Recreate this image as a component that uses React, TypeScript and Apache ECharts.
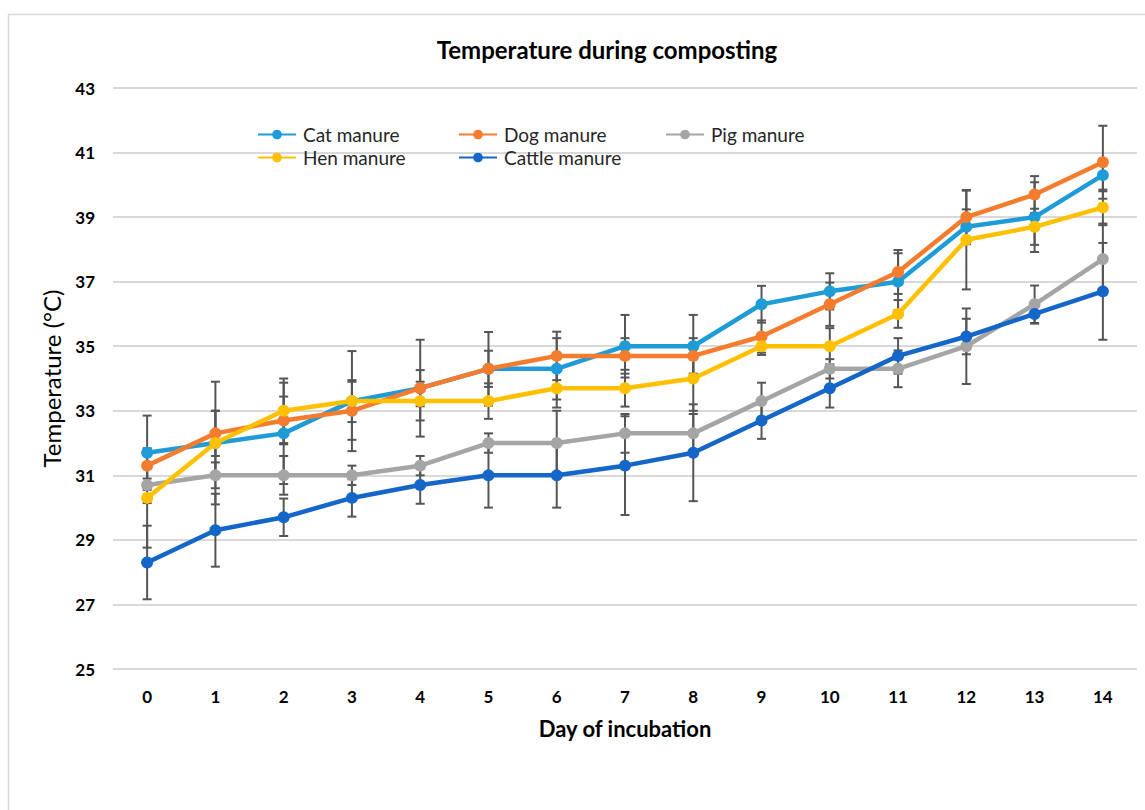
import React, { useEffect, useRef } from "react";
import * as echarts from "echarts";

const days = ["0", "1", "2", "3", "4", "5", "6", "7", "8", "9", "10", "11", "12", "13", "14"];
const yTicks = { min: 25, max: 43, interval: 2 };

const seriesNames = ["Cat manure", "Dog manure", "Pig manure", "Hen manure", "Cattle manure"];
const seriesColors = ["#1F9CD8", "#F47C2F", "#A5A5A5", "#FFC000", "#1467C8"];

const catManure = [31.7, 32.0, 32.3, 33.3, 33.7, 34.3, 34.3, 35.0, 35.0, 36.3, 36.7, 37.0, 38.7, 39.0, 40.3];
const dogManure = [31.3, 32.3, 32.7, 33.0, 33.7, 34.3, 34.7, 34.7, 34.7, 35.3, 36.3, 37.3, 39.0, 39.7, 40.7];
const pigManure = [30.7, 31.0, 31.0, 31.0, 31.3, 32.0, 32.0, 32.3, 32.3, 33.3, 34.3, 34.3, 35.0, 36.3, 37.7];
const henManure = [30.3, 32.0, 33.0, 33.3, 33.3, 33.3, 33.7, 33.7, 34.0, 35.0, 35.0, 36.0, 38.3, 38.7, 39.3];
const cattleManure = [28.3, 29.3, 29.7, 30.3, 30.7, 31.0, 31.0, 31.3, 31.7, 32.7, 33.7, 34.7, 35.3, 36.0, 36.7];

const catErr = [1.15, 1.0, 1.57, 0.65, 1.5, 1.14, 0.95, 0.97, 0.97, 0.57, 0.56, 0.88, 0.54, 1.08, 0.5];
const dogErr = [0.4, 0.7, 0.74, 0.9, 0.56, 0.56, 0.75, 0.55, 0.55, 0.5, 0.67, 0.68, 0.82, 0.57, 1.13];
const pigErr = [0.56, 0.4, 0.6, 0.3, 0.3, 0.3, 1.0, 0.6, 0.6, 0.57, 0.3, 0.57, 1.17, 0.58, 1.1];
const henErr = [1.54, 1.9, 1.0, 1.55, 0.6, 0.55, 0.6, 0.57, 1.0, 0.27, 0.56, 0.43, 1.54, 0.56, 0.55];
const cattleErr = [1.14, 1.13, 0.58, 0.58, 0.58, 1.0, 1.0, 1.53, 1.5, 0.57, 0.6, 0.55, 0.55, 0.3, 1.5];

const allValues = [catManure, dogManure, pigManure, henManure, cattleManure];
const allErrs = [catErr, dogErr, pigErr, henErr, cattleErr];

const legendColumns = [
  ["Cat manure", "Hen manure"],
  ["Dog manure", "Cattle manure"],
  ["Pig manure"],
];

const FONT = "Lato, 'Open Sans', sans-serif";

function errorRender(params: any, api: any) {
  const x = api.value(0);
  const lo = api.coord([x, api.value(1)]);
  const hi = api.coord([x, api.value(2)]);
  const w = 4.5;
  const style = { stroke: "#555555", lineWidth: 2 };
  return {
    type: "group",
    children: [
      { type: "line", shape: { x1: lo[0], y1: lo[1], x2: hi[0], y2: hi[1] }, style },
      { type: "line", shape: { x1: lo[0] - w, y1: lo[1], x2: lo[0] + w, y2: lo[1] }, style },
      { type: "line", shape: { x1: hi[0] - w, y1: hi[1], x2: hi[0] + w, y2: hi[1] }, style },
    ],
  };
}

export default function App() {
  const ref = useRef<HTMLDivElement>(null);
  useEffect(() => {
    if (!ref.current) return;
    const chart = echarts.init(ref.current, null, { renderer: "svg" });

    const errorSeries = seriesNames.map((name, k) => ({
      name: name + " error",
      type: "custom",
      renderItem: errorRender,
      data: allValues[k].map((v, i) => [i, v - allErrs[k][i], v + allErrs[k][i]]),
      encode: { x: 0, y: [1, 2] },
      z: 1,
      silent: true,
    }));

    const lineSeries = seriesNames.map((name, k) => ({
      name,
      type: "line",
      data: allValues[k],
      symbol: "circle",
      symbolSize: 12,
      color: seriesColors[k],
      lineStyle: { width: 4.5, color: seriesColors[k] },
      itemStyle: { color: seriesColors[k] },
      z: 3 + k,
    }));

    const legendLefts = [252, 453, 660];
    const legends = legendColumns.map((col, c) => ({
      left: legendLefts[c],
      top: 120,
      orient: "vertical",
      itemWidth: 38,
      itemHeight: 12,
      itemGap: 4,
      data: col,
      textStyle: { fontSize: 19, color: "#262626", fontFamily: FONT, padding: [0, 0, 0, 2] },
    }));

    chart.setOption({
      animation: false,
      backgroundColor: "#ffffff",
      title: {
        text: "Temperature during composting",
        left: 602,
        textAlign: "center",
        top: 32,
        textStyle: { fontSize: 24, fontWeight: "bold", color: "#000", fontFamily: FONT },
      },
      graphic: [
        {
          type: "rect",
          shape: { x: 8.5, y: 14.5, width: 1160, height: 820 },
          style: { fill: "none", stroke: "#D9D9D9", lineWidth: 1.5 },
          silent: true,
          z: -1,
        },
      ],
      legend: legends,
      grid: { left: 113, right: 8, top: 88, bottom: 141 },
      xAxis: {
        type: "category",
        data: days,
        boundaryGap: true,
        name: "Day of incubation",
        nameLocation: "middle",
        nameGap: 48,
        nameTextStyle: { fontSize: 22, fontWeight: "bold", color: "#000", fontFamily: FONT },
        axisLine: { show: false },
        axisTick: { show: false },
        axisLabel: { margin: 19, fontSize: 17, fontWeight: "bold", color: "#000", fontFamily: FONT },
        splitLine: { show: false },
      },
      yAxis: {
        type: "value",
        min: yTicks.min,
        max: yTicks.max,
        interval: yTicks.interval,
        name: "Temperature (°C)",
        nameLocation: "middle",
        nameGap: 50,
        nameTextStyle: { fontSize: 24, color: "#000", fontFamily: FONT },
        axisLine: { show: false },
        axisTick: { show: false },
        axisLabel: { margin: 18, fontSize: 17, fontWeight: "bold", color: "#000", fontFamily: FONT },
        splitLine: { show: true, lineStyle: { color: "#D9D9D9", width: 2 } },
      },
      series: [...errorSeries, ...lineSeries],
    });
    return () => chart.dispose();
  }, []);
  return (
    <div
      ref={ref}
      style={{ position: "absolute", left: 0, top: 0, width: 1145, height: 810, background: "#fff" }}
    />
  );
}
